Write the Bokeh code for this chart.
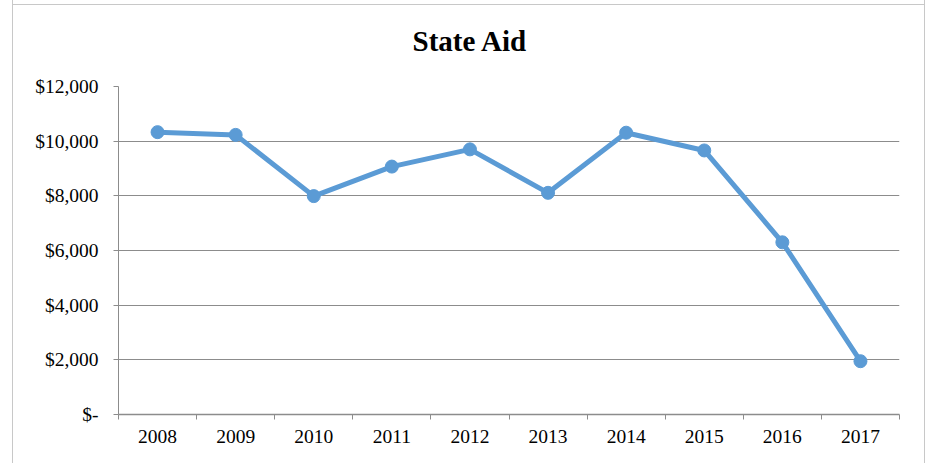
from bokeh.plotting import figure
from bokeh.models import Range1d, FixedTicker, NumeralTickFormatter
from bokeh.embed import file_html
from bokeh.resources import INLINE

# ---- data ----
years = [2008, 2009, 2010, 2011, 2012, 2013, 2014, 2015, 2016, 2017]
state_aid = [10330, 10230, 7990, 9070, 9700, 8110, 10310, 9660, 6300, 1950]
y_ticks = [0, 2000, 4000, 6000, 8000, 10000, 12000]
y_tick_labels = ["$-", "$2,000", "$4,000", "$6,000", "$8,000", "$10,000", "$12,000"]
title_text = "State Aid"

FONT = "Liberation Serif"
BLUE = "#5B9BD5"
GRID = "#8c8c8c"
BORDER = "#c8c8c8"

p = figure(width=913, height=473, output_backend="svg", toolbar_location=None,
           x_range=Range1d(years[0] - 0.5, years[-1] + 0.5),
           y_range=Range1d(y_ticks[0], y_ticks[-1]),
           min_border_left=105, min_border_right=27,
           min_border_top=96, min_border_bottom=49,
           margin=(-10, 0, 0, 12))
# outer chart border: left/right via CSS, top edge drawn as a 1px background line
p.styles = {
    "border-left": f"1px solid {BORDER}",
    "border-right": f"1px solid {BORDER}",
    "background-color": "white",
    "background-image": f"linear-gradient({BORDER}, {BORDER})",
    "background-repeat": "no-repeat",
    "background-size": "100% 1px",
    "background-position": "0 14px",
}
p.outline_line_color = None
p.background_fill_color = "white"
p.border_fill_color = None

# title
p.title.text = title_text
p.title.align = "left"
p.title.offset = 294
p.title.standoff = 60
p.title.text_font = FONT
p.title.text_font_size = "29px"
p.title.text_font_style = "bold"
p.title.text_color = "black"

# x axis: labels at year centres, ticks at category boundaries
boundaries = [y - 0.5 for y in years] + [years[-1] + 0.5]
p.xaxis.ticker = FixedTicker(ticks=years, minor_ticks=boundaries)
p.xaxis.formatter = NumeralTickFormatter(format="0")
p.xaxis.major_tick_out = 0
p.xaxis.major_tick_in = 0
p.xaxis.minor_tick_out = 5
p.xaxis.minor_tick_in = 0
p.xaxis.minor_tick_line_color = GRID
p.xaxis.axis_line_color = GRID
p.xaxis.axis_line_width = 1.5
p.xaxis.major_label_standoff = 10
p.xaxis.major_label_text_font = FONT
p.xaxis.major_label_text_font_size = "19.5px"
p.xaxis.major_label_text_color = "black"
p.xgrid.grid_line_color = None

# y axis
p.yaxis.ticker = FixedTicker(ticks=y_ticks)
p.yaxis.major_label_overrides = {t: l for t, l in zip(y_ticks, y_tick_labels)}
p.yaxis.major_tick_out = 5
p.yaxis.major_tick_in = 0
p.yaxis.minor_tick_line_color = None
p.yaxis.major_tick_line_color = GRID
p.yaxis.axis_line_color = GRID
p.yaxis.major_label_standoff = 15
p.yaxis.major_label_text_font = FONT
p.yaxis.major_label_text_font_size = "19.5px"
p.yaxis.major_label_text_color = "black"
p.ygrid.grid_line_color = GRID
p.ygrid.grid_line_width = 1

# series
p.line(years, state_aid, line_color=BLUE, line_width=5, line_join="round")
p.scatter(years, state_aid, size=13, fill_color=BLUE, line_color=BLUE)

open("out.html", "w").write(file_html(p, INLINE))
